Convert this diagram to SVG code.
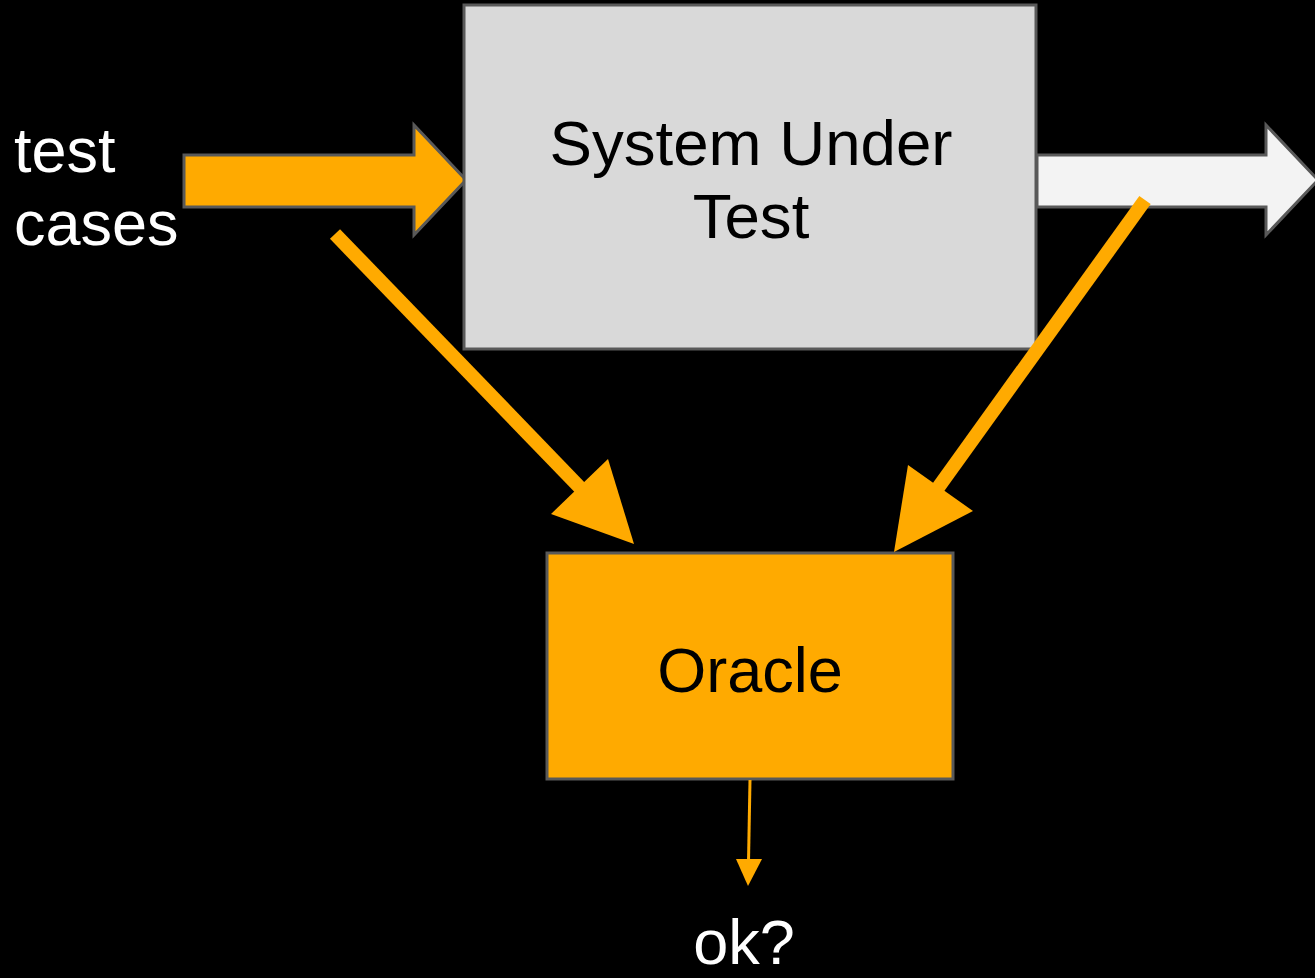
<svg xmlns="http://www.w3.org/2000/svg" width="1315" height="978" viewBox="0 0 1315 978">
  <style>
    .lbl { font-family: "Liberation Sans", Arial, sans-serif; font-size: 63px; }
    .dark { fill: #000000; }
    .light { fill: #ffffff; }
    .box { stroke: #595959; stroke-width: 3; }
    .flow { stroke: #ffaa00; stroke-width: 14; fill: none; }
    .head { fill: #ffaa00; }
  </style>
  <rect width="1315" height="978" fill="#000000"/>

  <g id="input-label">
    <text class="lbl light" x="14" y="172">test</text>
    <text class="lbl light" x="14" y="245">cases</text>
  </g>

  <g id="input-arrow">
    <polygon class="box" fill="#ffaa00" points="184,155 414,155 414,125 466,180 414,235 414,207 184,207"/>
  </g>

  <g id="sut">
    <rect class="box" x="464" y="5" width="572" height="344" fill="#d9d9d9"/>
    <text class="lbl dark" x="751" y="165" text-anchor="middle" style="font-size:63.6px">System Under</text>
    <text class="lbl dark" x="751" y="238" text-anchor="middle" style="font-size:63.6px">Test</text>
  </g>

  <g id="output-arrow">
    <polygon class="box" fill="#f3f3f3" points="1037,155 1266,155 1266,125 1318,180 1266,235 1266,207 1037,207"/>
  </g>

  <g id="oracle">
    <rect class="box" x="547" y="553" width="406" height="226" fill="#ffaa00"/>
    <text class="lbl dark" x="750" y="692" text-anchor="middle">Oracle</text>
  </g>

  <g id="verdict-label">
    <text class="lbl light" x="744" y="964" text-anchor="middle">ok?</text>
  </g>

  <g id="connectors">
    <!-- test cases to oracle -->
    <line class="flow" x1="335" y1="234" x2="590" y2="498"/>
    <polygon class="head" points="608,459 551,514 634,544"/>
    <!-- system output to oracle -->
    <line class="flow" x1="1145" y1="200" x2="935" y2="492"/>
    <polygon class="head" points="908,465 973,511 894,552"/>
    <!-- oracle verdict -->
    <line stroke="#ffaa00" stroke-width="3" x1="750" y1="780" x2="748.5" y2="862"/>
    <polygon class="head" points="736,859 762,859 748,886"/>
  </g>
</svg>
